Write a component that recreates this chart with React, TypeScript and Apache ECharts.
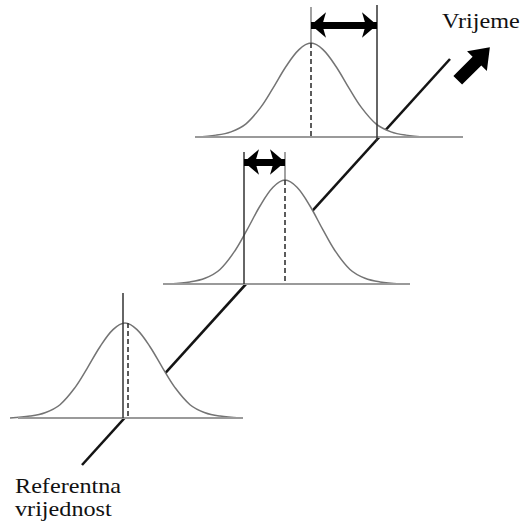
import React, { useEffect, useRef } from "react";
import * as echarts from "echarts";

// Bell profile (horizontal offset from peak, fraction of peak height)
const profileDx = [-115, -95, -80, -65, -50, -38, -25, -12, 0, 12, 25, 38, 50, 65, 80, 95, 115];
const profileH = [0, 0.02, 0.055, 0.14, 0.32, 0.52, 0.75, 0.93, 1, 0.93, 0.75, 0.52, 0.32, 0.14, 0.055, 0.02, 0];

// Three distributions (top, middle, bottom)
const curveCenters = [311, 285, 125];
const curveBaselines = [137, 284, 418];
const curvePeaks = [43, 180, 323];
const baselineStart = [195, 163, 18];
const baselineEnd = [463, 410, 243];

// Reference (solid) verticals: x, top, bottom
const solidX = [377, 244, 123];
const solidTop = [5, 152, 293];
const solidBottom = [141, 284, 418];

// Brackets above peaks for the deviation arrows
const bracketX = [311, 285];
const bracketTop = [7, 152];
const bracketBottom = [43, 180];

// Dashed mean lines
const dashX = [311, 285, 128];

// Double arrows: from x, to x, y
const arrowFrom = [311, 244];
const arrowTo = [377, 285];
const arrowY = [25, 162];

// Time axis diagonal
const diagonal = [
  [82, 465],
  [450, 59],
];

// Big block arrow position
const bigArrow = [[474, 64]];

const W = 527;
const H = 528;
const SERIF = "Liberation Serif";

export default function App() {
  const ref = useRef<HTMLDivElement>(null);

  useEffect(() => {
    if (!ref.current) return;
    const chart = echarts.init(ref.current, null, { renderer: "svg" });

    const series: any[] = [];

    // diagonal time axis (drawn beneath curves)
    series.push({
      type: "line",
      data: diagonal,
      symbol: "none",
      lineStyle: { color: "#141414", width: 2.6 },
      z: 1,
    });

    curveCenters.forEach((c, i) => {
      const h = curveBaselines[i] - curvePeaks[i];
      const pts = profileDx.map((dx, k) => [c + dx, curveBaselines[i] - profileH[k] * h]);
      series.push({
        type: "line",
        data: pts,
        symbol: "none",
        smooth: 0.35,
        lineStyle: { color: "#747474", width: 1.5 },
        areaStyle: { color: "#ffffff", opacity: 1, origin: curveBaselines[i] },
        z: 2,
      });
      series.push({
        type: "line",
        data: [
          [baselineStart[i], curveBaselines[i]],
          [baselineEnd[i], curveBaselines[i]],
        ],
        symbol: "none",
        lineStyle: { color: "#9a9a9a", width: 2.2 },
        z: 3,
      });
      series.push({
        type: "line",
        data: [
          [dashX[i], curvePeaks[i]],
          [dashX[i], curveBaselines[i]],
        ],
        symbol: "none",
        lineStyle: { color: "#333333", width: 1.6, type: [5, 3] },
        z: 4,
      });
    });

    solidX.forEach((x, i) => {
      series.push({
        type: "line",
        data: [
          [x, solidTop[i]],
          [x, solidBottom[i]],
        ],
        symbol: "none",
        lineStyle: { color: "#333333", width: 1.5 },
        z: 4,
      });
    });

    bracketX.forEach((x, i) => {
      series.push({
        type: "line",
        data: [
          [x, bracketTop[i]],
          [x, bracketBottom[i]],
        ],
        symbol: "none",
        lineStyle: { color: "#555555", width: 1.1 },
        z: 4,
      });
    });

    arrowFrom.forEach((x0, i) => {
      series.push({
        type: "line",
        data: [],
        symbol: "none",
        z: 5,
        markLine: {
          silent: true,
          symbol: ["arrow", "arrow"],
          symbolSize: [19, 15],
          label: { show: false },
          lineStyle: { color: "#000000", width: 7, type: "solid", opacity: 1 },
          data: [
            [
              { coord: [x0, arrowY[i]] },
              { coord: [arrowTo[i], arrowY[i]] },
            ],
          ],
        },
      });
    });

    series.push({
      type: "scatter",
      data: bigArrow,
      symbol: "path://M12,0 L25,18 L18,18 L18,44 L7,44 L7,18 L0,18 Z",
      symbolSize: [28, 46],
      symbolRotate: -45,
      itemStyle: { color: "#000000", opacity: 1 },
      z: 5,
    });

    chart.setOption({
      animation: false,
      grid: { left: 0, top: 0, right: 0, bottom: 0 },
      xAxis: { type: "value", min: 0, max: W, show: false },
      yAxis: { type: "value", min: 0, max: H, inverse: true, show: false },
      series,
      graphic: [
        {
          type: "text",
          x: 442,
          y: 9,
          scaleX: 1.1,
          style: {
            text: "Vrijeme",
            fontFamily: SERIF,
            fontSize: 22,
            fill: "#111",
          },
        },
        {
          type: "text",
          x: 15,
          y: 474,
          scaleX: 1.1,
          style: {
            text: "Referentna\nvrijednost",
            fontFamily: SERIF,
            fontSize: 22,
            lineHeight: 23,
            fill: "#111",
          },
        },
      ],
    });

    return () => chart.dispose();
  }, []);

  return (
    <div
      ref={ref}
      style={{ position: "fixed", left: 0, top: 0, width: W, height: H, background: "#fff" }}
    />
  );
}
